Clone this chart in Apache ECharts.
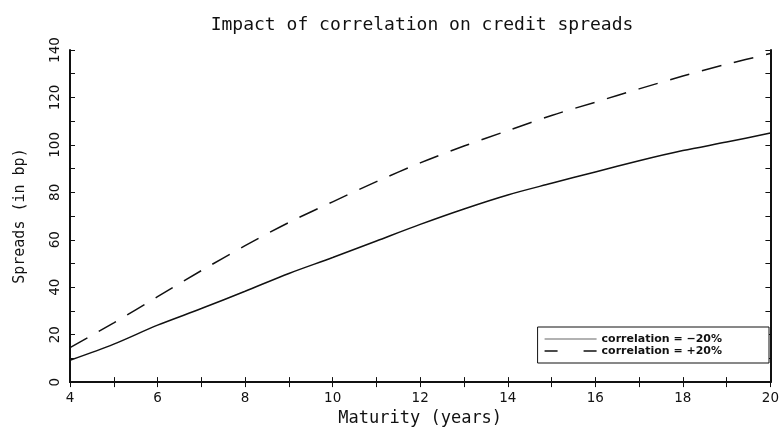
<!DOCTYPE html>
<html>
<head>
<meta charset="utf-8">
<script src="https://cdn.jsdelivr.net/npm/echarts@6/dist/echarts.min.js"></script>
<style>
html,body{margin:0;padding:0;background:#fff;}
#chart{width:782px;height:432px;}
</style>
</head>
<body>
<div id="chart"></div>
<script>
// Data
var maturity = [4, 5, 6, 7, 8, 9, 10, 11, 12, 13, 14, 15, 16, 17, 18, 19, 20];
var spreadsNeg20 = [9.2, 16, 24, 31, 38.3, 45.8, 52.5, 59.5, 66.5, 73, 78.9, 83.8, 88.6, 93.3, 97.6, 101.2, 105];
var spreadsPos20 = [14.5, 25, 36, 47, 57.5, 67.3, 76, 84.5, 92.4, 99.5, 106, 112.4, 118, 123.6, 129, 134, 138.5];
var xTickLabels = [4, 6, 8, 10, 12, 14, 16, 18, 20];
var yTickLabels = [0, 20, 40, 60, 80, 100, 120, 140];
var seriesNames = ['correlation = \u221220%', 'correlation = +20%'];

function pairs(xs, ys) { return xs.map(function (x, i) { return [x, ys[i]]; }); }

var FONT = 'DejaVu Sans';
var FONT_W = 'DejaVu Sans Mono';
var INK = '#111';
var xMin = xTickLabels[0], xMax = xTickLabels[xTickLabels.length - 1];
var xInt = xTickLabels[1] - xTickLabels[0];
var yMin = yTickLabels[0], yMax = yTickLabels[yTickLabels.length - 1];
var yInt = yTickLabels[1] - yTickLabels[0];

var axisCommon = {
  axisLine: { show: true, lineStyle: { color: INK, width: 2 } },
  axisTick: { show: true, inside: true, length: 5, lineStyle: { color: INK, width: 1 } },
  minorTick: { show: true, splitNumber: 2, length: 5, lineStyle: { color: INK, width: 1 } },
  splitLine: { show: false }
};

// legend key shapes (solid bar / two dashes)
var iconSolid = 'path://M0,0L52,0L52,1.5L0,1.5Z';
var iconDashed = 'path://M0,0L13,0L13,1.5L0,1.5Z M39,0L52,0L52,1.5L39,1.5Z';

var chart = echarts.init(document.getElementById('chart'), null, { renderer: 'canvas' });
chart.setOption({
  backgroundColor: '#fff',
  animation: false,
  title: {
    text: 'Impact of correlation on credit spreads',
    left: 417, top: 11, textAlign: 'center',
    textStyle: { fontFamily: FONT_W, fontSize: 18, fontWeight: 'normal', color: INK }
  },
  grid: { left: 70, right: 10, top: 50, bottom: 46, containLabel: false },
  legend: {
    show: true,
    orient: 'vertical',
    right: 13, bottom: 69,
    padding: [6, 47, 6, 7],
    itemGap: 0,
    itemWidth: 52, itemHeight: 1.5,
    borderColor: INK, borderWidth: 1,
    backgroundColor: '#fff',
    textStyle: { fontFamily: FONT, fontSize: 11, fontWeight: 'bold', color: INK, lineHeight: 12 },
    data: [
      { name: seriesNames[0], icon: iconSolid, itemStyle: { color: '#999' } },
      { name: seriesNames[1], icon: iconDashed, itemStyle: { color: INK } }
    ]
  },
  xAxis: [
    Object.assign({}, axisCommon, {
      type: 'value', position: 'bottom', min: xMin, max: xMax, interval: xInt,
      name: 'Maturity (years)', nameLocation: 'middle', nameGap: 24,
      nameTextStyle: { fontFamily: FONT_W, fontSize: 17, color: INK },
      axisLabel: { show: true, margin: 9, fontFamily: FONT, fontSize: 13.5, color: INK,
        showMinLabel: true, showMaxLabel: true }
    }),
    Object.assign({}, axisCommon, {
      type: 'value', position: 'top', min: xMin, max: xMax, interval: xInt,
      axisLabel: { show: false }
    })
  ],
  yAxis: [
    Object.assign({}, axisCommon, {
      type: 'value', position: 'left', min: yMin, max: yMax, interval: yInt,
      name: 'Spreads (in bp)', nameLocation: 'middle', nameGap: 42, nameRotate: 90,
      nameTextStyle: { fontFamily: FONT_W, fontSize: 15, color: INK },
      axisLabel: { show: true, rotate: 90, margin: 8, fontFamily: FONT, fontSize: 13.5, color: INK,
        showMinLabel: true, showMaxLabel: true }
    }),
    Object.assign({}, axisCommon, {
      type: 'value', position: 'right', min: yMin, max: yMax, interval: yInt,
      axisLabel: { show: false }
    })
  ],
  series: [
    {
      name: seriesNames[0], type: 'line', xAxisIndex: 0, yAxisIndex: 0,
      data: pairs(maturity, spreadsNeg20), showSymbol: false, symbol: 'none', smooth: 0.3,
      lineStyle: { color: INK, width: 1.5, type: 'solid' }, itemStyle: { color: INK }
    },
    {
      name: seriesNames[1], type: 'line', xAxisIndex: 0, yAxisIndex: 0,
      data: pairs(maturity, spreadsPos20), showSymbol: false, symbol: 'none', smooth: 0.3,
      lineStyle: { color: INK, width: 1.5, type: [20, 13] }, itemStyle: { color: INK }
    }
  ]
});
</script>
</body>
</html>
